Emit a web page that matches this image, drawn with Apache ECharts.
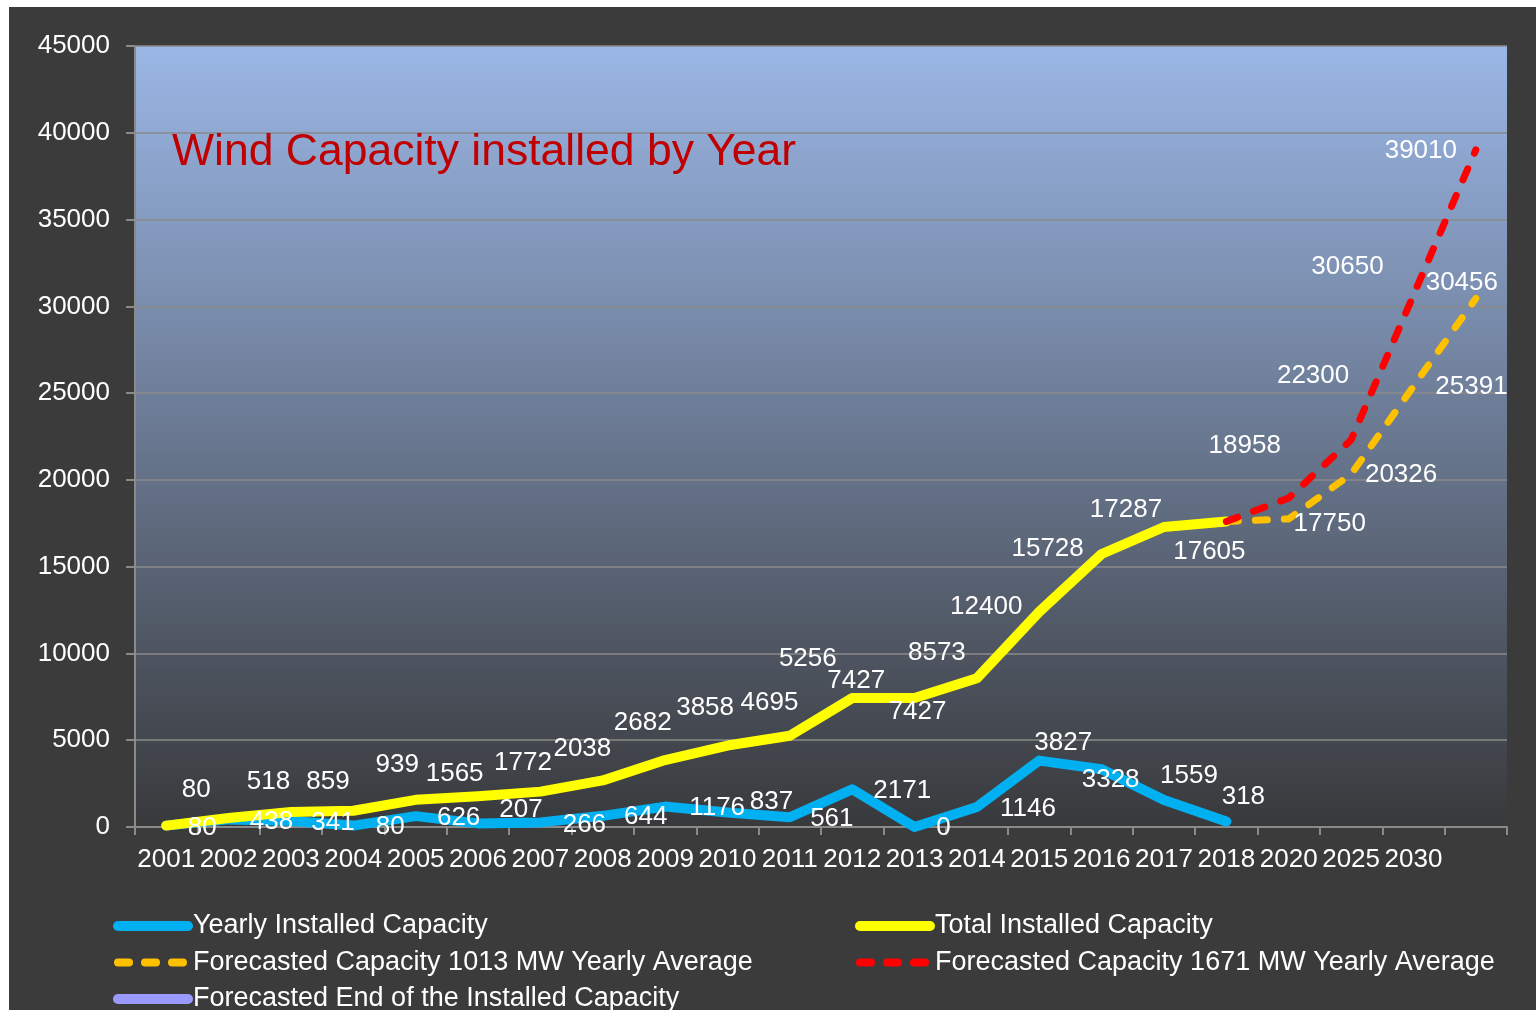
<!DOCTYPE html>
<html>
<head>
<meta charset="utf-8">
<script src="https://cdn.jsdelivr.net/npm/echarts@6/dist/echarts.min.js"></script>
<style>
html, body { margin: 0; padding: 0; background: #fff; }
#wrap { position: relative; width: 1536px; height: 1010px; overflow: hidden; }
#wind { position: absolute; left: 9px; top: 7px; width: 1527px; height: 1003px; background: #3b3b3b; }
</style>
</head>
<body>
<div id="wrap"><div id="wind"></div></div>
<script>
// categories (last slot has no label)
const years = ['2001', '2002', '2003', '2004', '2005', '2006', '2007', '2008', '2009', '2010',
  '2011', '2012', '2013', '2014', '2015', '2016', '2017', '2018', '2020', '2025', '2030', '']

const yearly = [80, 438, 341, 80, 626, 207, 266, 644, 1176, 837, 561, 2171, 0, 1146, 3827, 3328, 1559, 318]
const total = [80, 518, 859, 939, 1565, 1772, 2038, 2682, 3858, 4695, 5256, 7427, 7427, 8573, 12400, 15728, 17287, 17605]
const gap = new Array(17).fill(null)
const forecast1013 = gap.concat([17605, 17750, 20326, 25391, 30456])
const forecast1671 = gap.concat([17605, 18958, 22300, 30650, 39010])
const forecastEnd = []

// label placement (px offsets from each point, as in the original)
const yearlyShift = [[36, 2], [43, 2], [42, 2], [37, 1], [43, 2], [43, -14], [44, 2], [43, 1], [52, 1], [44, -11],
  [42, 2], [50, 2], [29, 1], [51, 2], [24, -18], [9, 11], [25, -24], [17, -25]]
const totalShift = [[30, -36], [40, -36], [37, -30], [44, -46], [39, -26], [45, -33], [42, -43], [40, -58], [40, -52], [42, -43],
  [18, -77], [4, -17], [3, 14], [-40, -25], [-53, -5], [-54, -5], [-38, -17], [-17, 30]]
const f1013Shift = { 18: [41, 5], 19: [50, 1], 20: [58, 1], 21: [-14, -16] }
const f1671Shift = { 18: [-44, -52], 19: [-38, -64], 20: [-66, -28], 21: [-55, 1] }

const FONT = "'Liberation Sans', Arial, sans-serif"
const DASH = [12, 17]

function withLabels(values, shifts) {
  return values.map((v, i) => {
    const s = shifts[i]
    return { value: v, label: s ? { show: true, offset: s } : { show: false } }
  })
}

function lineSeries(name, color, width, dashed, data) {
  return {
    name: name,
    type: 'line',
    data: data,
    symbol: 'circle',
    symbolSize: 2,
    showSymbol: true,
    itemStyle: { color: 'rgba(0,0,0,0)' },
    lineStyle: {
      color: color,
      width: width,
      type: dashed ? DASH : 'solid',
      cap: 'round',
      join: 'round'
    },
    label: {
      show: true,
      position: 'inside',
      color: '#fff',
      fontSize: 26,
      fontFamily: FONT
    },
    emphasis: { disabled: true },
    animation: false
  }
}

// legend entry with the same stroke as its line
function legendItem(name, color, width, dashed) {
  return {
    name: name,
    lineStyle: { color: color, width: width, type: dashed ? [11, 16] : 'solid', cap: 'round' },
    itemStyle: { color: 'rgba(0,0,0,0)' }
  }
}

const legendText = { color: '#fff', fontSize: 27, fontFamily: FONT, lineHeight: 30 }

let myChart = echarts.init(document.getElementById('wind'))
let option = {
  backgroundColor: '#3b3b3b',
  title: {
    text: 'Wind Capacity installed by Year',
    left: 158,
    top: 118,
    padding: 5,
    textStyle: { color: '#c00000', fontSize: 44.5, fontWeight: 'normal', fontFamily: FONT }
  },
  grid: {
    left: 126,
    top: 39,
    right: 29,
    bottom: 183,
    show: true,
    borderWidth: 0,
    backgroundColor: {
      type: 'linear', x: 0, y: 0, x2: 0, y2: 1,
      colorStops: [
        { offset: 0, color: '#9bb7e6' },
        { offset: 1, color: '#38393b' }
      ]
    }
  },
  legend: [
    {
      orient: 'vertical',
      left: 99,
      top: 899,
      height: 140,
      padding: 5,
      itemWidth: 70,
      itemHeight: 10,
      itemGap: 6.5,
      data: [
        legendItem('Yearly Installed Capacity', '#00b0f0', 10, false),
        legendItem('Forecasted Capacity 1013 MW Yearly Average', '#ffc000', 8, true),
        legendItem('Forecasted End of the Installed Capacity', '#9999ff', 10, false)
      ],
      textStyle: legendText
    },
    {
      orient: 'vertical',
      left: 841,
      top: 899,
      height: 140,
      padding: 5,
      itemWidth: 70,
      itemHeight: 10,
      itemGap: 6.5,
      data: [
        legendItem('Total Installed Capacity', '#ffff00', 10, false),
        legendItem('Forecasted Capacity 1671 MW Yearly Average', '#ff0000', 8, true)
      ],
      textStyle: legendText
    }
  ],
  xAxis: {
    type: 'category',
    data: years,
    boundaryGap: true,
    axisLine: { show: true, lineStyle: { color: '#8a8a8a', width: 2 } },
    axisTick: { show: true, length: 8, lineStyle: { color: '#8a8a8a', width: 2 } },
    axisLabel: { interval: 0, margin: 20, color: '#fff', fontSize: 26, fontFamily: FONT }
  },
  yAxis: {
    type: 'value',
    min: 0,
    max: 45000,
    interval: 5000,
    axisLine: { show: true, lineStyle: { color: '#8a8a8a', width: 2 } },
    axisTick: { show: true, length: 9, lineStyle: { color: '#8a8a8a', width: 2 } },
    axisLabel: { margin: 25, color: '#fff', fontSize: 26, fontFamily: FONT, formatter: (v) => String(v) },
    splitLine: { lineStyle: { color: '#8a8a8a', width: 1.5 } }
  },
  series: [
    lineSeries('Yearly Installed Capacity', '#00b0f0', 10, false, withLabels(yearly, yearlyShift)),
    lineSeries('Total Installed Capacity', '#ffff00', 10, false, withLabels(total, totalShift)),
    lineSeries('Forecasted Capacity 1013 MW Yearly Average', '#ffc000', 7, true, withLabels(forecast1013, f1013Shift)),
    lineSeries('Forecasted Capacity 1671 MW Yearly Average', '#ff0000', 7, true, withLabels(forecast1671, f1671Shift)),
    lineSeries('Forecasted End of the Installed Capacity', '#9999ff', 10, false, forecastEnd)
  ]
}
myChart.setOption(option, true)
</script>
</body>
</html>
